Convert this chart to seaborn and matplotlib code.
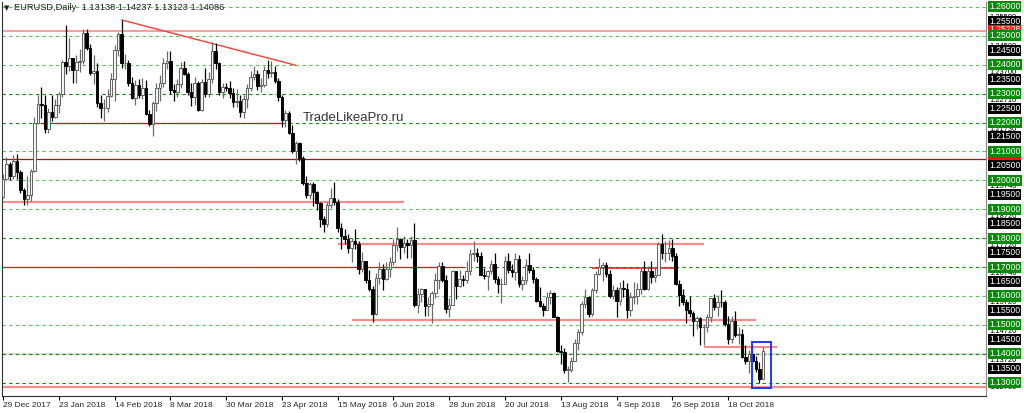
import numpy as np
import pandas as pd
import matplotlib
matplotlib.use("Agg")
import matplotlib.pyplot as plt
from matplotlib.patches import Rectangle
import seaborn as sns

# EURUSD daily, 29 Dec 2017 .. 1 Nov 2018 (one value per bar)
first_open = 1.1943
closes = [
    1.2005, 1.2058, 1.2015, 1.2068, 1.2029, 1.1966, 1.1936, 1.1948, 1.2033, 1.2199,
    1.2263, 1.2262, 1.2177, 1.2237, 1.2220, 1.2262, 1.2300, 1.2408, 1.2397, 1.2425,
    1.2382, 1.2410, 1.2413, 1.2511, 1.2458, 1.2372, 1.2379, 1.2266, 1.2250, 1.2251,
    1.2292, 1.2352, 1.2450, 1.2507, 1.2406, 1.2406, 1.2338, 1.2285, 1.2331, 1.2295,
    1.2318, 1.2230, 1.2194, 1.2268, 1.2318, 1.2336, 1.2405, 1.2412, 1.2311, 1.2306,
    1.2335, 1.2390, 1.2369, 1.2307, 1.2288, 1.2336, 1.2242, 1.2339, 1.2299, 1.2352,
    1.2447, 1.2406, 1.2305, 1.2323, 1.2321, 1.2302, 1.2271, 1.2276, 1.2238, 1.2281,
    1.2320, 1.2356, 1.2369, 1.2326, 1.2330, 1.2381, 1.2371, 1.2374, 1.2345, 1.2288,
    1.2210, 1.2234, 1.2165, 1.2103, 1.2130, 1.2079, 1.1992, 1.1951, 1.1988, 1.1960,
    1.1922, 1.1866, 1.1850, 1.1916, 1.1940, 1.1926, 1.1836, 1.1808, 1.1796, 1.1767,
    1.1791, 1.1780, 1.1694, 1.1720, 1.1655, 1.1624, 1.1536, 1.1663, 1.1693, 1.1658,
    1.1694, 1.1717, 1.1775, 1.1798, 1.1768, 1.1782, 1.1777, 1.1793, 1.1569, 1.1607,
    1.1624, 1.1565, 1.1572, 1.1610, 1.1654, 1.1702, 1.1654, 1.1554, 1.1569, 1.1685,
    1.1634, 1.1660, 1.1655, 1.1687, 1.1745, 1.1750, 1.1740, 1.1673, 1.1670, 1.1686,
    1.1710, 1.1659, 1.1641, 1.1642, 1.1720, 1.1691, 1.1683, 1.1728, 1.1640, 1.1657,
    1.1708, 1.1690, 1.1658, 1.1584, 1.1567, 1.1553, 1.1595, 1.1611, 1.1528, 1.1410,
    1.1406, 1.1345, 1.1345, 1.1375, 1.1437, 1.1477, 1.1571, 1.1598, 1.1536, 1.1620,
    1.1677, 1.1700, 1.1708, 1.1675, 1.1601, 1.1620, 1.1583, 1.1628, 1.1623, 1.1552,
    1.1596, 1.1600, 1.1625, 1.1688, 1.1625, 1.1686, 1.1667, 1.1673, 1.1779, 1.1748,
    1.1748, 1.1766, 1.1738, 1.1641, 1.1605, 1.1578, 1.1551, 1.1541, 1.1513, 1.1523,
    1.1491, 1.1491, 1.1526, 1.1593, 1.1561, 1.1580, 1.1578, 1.1502, 1.1451, 1.1513,
    1.1464, 1.1469, 1.1389, 1.1376, 1.1401, 1.1376, 1.1348, 1.1312, 1.1409,
]
highs = [
    1.2023, 1.2081, 1.2065, 1.2089, 1.2092, 1.2035, 1.1973, 1.2015, 1.2039, 1.2219,
    1.2296, 1.2323, 1.2297, 1.2250, 1.2297, 1.2283, 1.2306, 1.2415, 1.2537, 1.2494,
    1.2423, 1.2434, 1.2456, 1.2523, 1.2522, 1.2473, 1.2434, 1.2405, 1.2296, 1.2280,
    1.2315, 1.2370, 1.2469, 1.2513, 1.2555, 1.2436, 1.2416, 1.2356, 1.2348, 1.2352,
    1.2355, 1.2346, 1.2243, 1.2275, 1.2336, 1.2365, 1.2424, 1.2446, 1.2447, 1.2335,
    1.2350, 1.2410, 1.2413, 1.2375, 1.2337, 1.2356, 1.2345, 1.2350, 1.2388, 1.2375,
    1.2477, 1.2476, 1.2408, 1.2337, 1.2338, 1.2345, 1.2318, 1.2316, 1.2295, 1.2296,
    1.2335, 1.2378, 1.2396, 1.2383, 1.2355, 1.2396, 1.2415, 1.2413, 1.2396, 1.2355,
    1.2296, 1.2245, 1.2239, 1.2190, 1.2136, 1.2134, 1.2083, 1.2015, 1.1995, 1.1995,
    1.1964, 1.1925, 1.1875, 1.1924, 1.1972, 1.1996, 1.1935, 1.1852, 1.1830, 1.1815,
    1.1800, 1.1832, 1.1790, 1.1751, 1.1722, 1.1690, 1.1634, 1.1680, 1.1718, 1.1710,
    1.1716, 1.1735, 1.1796, 1.1840, 1.1799, 1.1809, 1.1796, 1.1809, 1.1852, 1.1628,
    1.1626, 1.1622, 1.1595, 1.1618, 1.1678, 1.1719, 1.1716, 1.1673, 1.1592, 1.1690,
    1.1682, 1.1690, 1.1673, 1.1720, 1.1762, 1.1790, 1.1767, 1.1751, 1.1696, 1.1690,
    1.1723, 1.1747, 1.1668, 1.1661, 1.1738, 1.1750, 1.1710, 1.1748, 1.1742, 1.1668,
    1.1727, 1.1747, 1.1700, 1.1665, 1.1630, 1.1577, 1.1613, 1.1620, 1.1614, 1.1532,
    1.1431, 1.1419, 1.1358, 1.1390, 1.1450, 1.1485, 1.1581, 1.1623, 1.1601, 1.1628,
    1.1688, 1.1733, 1.1716, 1.1717, 1.1690, 1.1639, 1.1631, 1.1647, 1.1656, 1.1644,
    1.1613, 1.1647, 1.1645, 1.1700, 1.1722, 1.1702, 1.1721, 1.1701, 1.1788, 1.1815,
    1.1789, 1.1794, 1.1797, 1.1750, 1.1655, 1.1624, 1.1589, 1.1601, 1.1548, 1.1532,
    1.1526, 1.1502, 1.1539, 1.1594, 1.1607, 1.1603, 1.1621, 1.1585, 1.1532, 1.1530,
    1.1549, 1.1493, 1.1486, 1.1432, 1.1412, 1.1432, 1.1393, 1.1373, 1.14237,
]
lows = [
    1.1940, 1.2000, 1.2000, 1.2006, 1.2004, 1.1955, 1.1916, 1.1916, 1.1929, 1.2028,
    1.2195, 1.2216, 1.2165, 1.2165, 1.2205, 1.2215, 1.2234, 1.2290, 1.2367, 1.2380,
    1.2338, 1.2336, 1.2375, 1.2403, 1.2450, 1.2365, 1.2335, 1.2253, 1.2214, 1.2206,
    1.2237, 1.2288, 1.2274, 1.2430, 1.2390, 1.2385, 1.2325, 1.2281, 1.2260, 1.2285,
    1.2280, 1.2226, 1.2189, 1.2155, 1.2241, 1.2273, 1.2324, 1.2386, 1.2300, 1.2273,
    1.2290, 1.2319, 1.2363, 1.2296, 1.2258, 1.2260, 1.2240, 1.2239, 1.2288, 1.2288,
    1.2337, 1.2385, 1.2296, 1.2286, 1.2310, 1.2285, 1.2254, 1.2255, 1.2218, 1.2215,
    1.2250, 1.2308, 1.2348, 1.2314, 1.2305, 1.2324, 1.2355, 1.2358, 1.2336, 1.2275,
    1.2183, 1.2183, 1.2161, 1.2096, 1.2055, 1.2068, 1.1985, 1.1938, 1.1937, 1.1911,
    1.1896, 1.1838, 1.1823, 1.1838, 1.1904, 1.1915, 1.1820, 1.1763, 1.1779, 1.1750,
    1.1716, 1.1761, 1.1676, 1.1684, 1.1645, 1.1616, 1.1510, 1.1535, 1.1640, 1.1619,
    1.1656, 1.1667, 1.1707, 1.1754, 1.1729, 1.1748, 1.1732, 1.1730, 1.1562, 1.1540,
    1.1580, 1.1532, 1.1530, 1.1508, 1.1594, 1.1623, 1.1647, 1.1541, 1.1527, 1.1569,
    1.1591, 1.1630, 1.1633, 1.1646, 1.1672, 1.1720, 1.1717, 1.1671, 1.1658, 1.1622,
    1.1675, 1.1646, 1.1612, 1.1575, 1.1647, 1.1681, 1.1664, 1.1655, 1.1630, 1.1620,
    1.1641, 1.1680, 1.1646, 1.1578, 1.1561, 1.1530, 1.1550, 1.1572, 1.1527, 1.1406,
    1.1365, 1.1334, 1.1301, 1.1336, 1.1374, 1.1413, 1.1465, 1.1560, 1.1528, 1.1532,
    1.1611, 1.1671, 1.1653, 1.1664, 1.1594, 1.1589, 1.1529, 1.1570, 1.1597, 1.1525,
    1.1530, 1.1572, 1.1572, 1.1607, 1.1620, 1.1621, 1.1645, 1.1650, 1.1672, 1.1727,
    1.1719, 1.1726, 1.1721, 1.1639, 1.1566, 1.1570, 1.1505, 1.1526, 1.1463, 1.1486,
    1.1432, 1.1431, 1.1474, 1.1510, 1.1550, 1.1530, 1.1561, 1.1495, 1.1433, 1.1436,
    1.1458, 1.1435, 1.1386, 1.1365, 1.1335, 1.1369, 1.1338, 1.1300, 1.13123,
]

tick_bars = [0, 16, 32, 48, 64, 80, 96, 112, 128, 144, 160, 176, 192, 208]
tick_labels = ["29 Dec 2017", "23 Jan 2018", "14 Feb 2018", "8 Mar 2018", "30 Mar 2018",
               "23 Apr 2018", "15 May 2018", "6 Jun 2018", "28 Jun 2018", "20 Jul 2018",
               "13 Aug 2018", "4 Sep 2018", "26 Sep 2018", "18 Oct 2018"]

round_levels = [1.26, 1.25, 1.24, 1.23, 1.22, 1.21, 1.20, 1.19, 1.18, 1.17, 1.16, 1.15, 1.14, 1.13]
dark_levels = [1.23, 1.22, 1.18, 1.17, 1.14, 1.13]
half_levels = [1.255, 1.245, 1.235, 1.225, 1.215, 1.205, 1.195, 1.185, 1.175, 1.165, 1.155, 1.145, 1.135]
minor_labels = [1.2558, 1.2458, 1.2370, 1.2271, 1.2173, 1.1974, 1.1872, 1.1772, 1.1674,
                1.1572, 1.1472, 1.1372, 1.1278]
red_labels = [1.25208, 1.20880]

header = "EURUSD,Daily  1.13138 1.14237 1.13123 1.14086"

df = pd.DataFrame({"close": closes, "high": highs, "low": lows})
df["open"] = [first_open] + closes[:-1]
df["bar"] = np.arange(len(df))
df["up"] = df["close"] >= df["open"]

sns.set_theme(style="white")
plt.rcParams['font.family'] = ['Liberation Sans', 'DejaVu Sans']

W, H = 1024, 413
fig = plt.figure(figsize=(W / 100, H / 100), dpi=100)
ax = fig.add_axes([2 / W, (H - 396) / H, 984 / W, 394 / H])
ax.set_xlim(-0.29, 282.0)
ax.set_ylim(1.1254, 1.2617)

# grid levels
for lv in round_levels:
    col = "#0a8a0a" if lv in dark_levels else "#5cbf5c"
    ax.axhline(lv, color=col, lw=0.8, dashes=(3, 3), zorder=1)
ax.axhline(1.1400, color="#dcdcdc", lw=1.6, zorder=0.5)

# support / resistance lines
red_thin = "#e8141a"
red_soft = "#ff8a8a"
ax.hlines(1.2517, -1, 300, color=red_soft, lw=1.2, zorder=2)
ax.hlines(1.2199, 10.6, 80, color="#b41e1e", lw=0.9, zorder=2)
ax.hlines(1.2075, -1, 300, color="#a01414", lw=0.9, zorder=2)
ax.hlines(1.1924, -1, 115, color=red_soft, lw=1.6, zorder=2)
ax.hlines(1.1780, 96, 201, color=red_soft, lw=1.6, zorder=2)
ax.hlines(1.1700, -1, 132, color=red_thin, lw=0.9, zorder=2)
ax.hlines(1.1697, 169, 193, color=red_thin, lw=1.1, zorder=2)
ax.hlines(1.1517, 100, 216, color=red_soft, lw=1.6, zorder=2)
ax.hlines(1.1424, 201, 222, color=red_soft, lw=1.6, zorder=2)
ax.hlines(1.1286, -1, 300, color=red_soft, lw=1.6, zorder=2)
trend = pd.DataFrame({"bar": [34, 84], "price": [1.2555, 1.2398]})
sns.lineplot(data=trend, x="bar", y="price", ax=ax, color="#ff3a3a", lw=1.0, zorder=2)

# candles
wick_col = np.where(df["up"], "#6a6a6a", "black")
ax.vlines(df["bar"], df["low"], df["high"], colors=wick_col, lw=0.9, zorder=3)
body_lo = df[["open", "close"]].min(axis=1)
body_h = (df["close"] - df["open"]).abs().clip(lower=0.00008)
ax.bar(df["bar"], body_h, bottom=body_lo, width=0.74,
       color=np.where(df["up"], "#f4f4f4", "black"),
       edgecolor=np.where(df["up"], "#5a5a5a", "black"), linewidth=0.65, zorder=4)

ax.add_patch(Rectangle((214.9, 1.1282), 5.4, 0.0159, fill=False, ec="#1a3cff", lw=1.4, zorder=5))

ax.set_ylabel("")
ax.set_xlabel("")
ax.set_yticks([])
ax.set_xticks(tick_bars)
ax.set_xticklabels(tick_labels, ha="left", fontsize=6.0)
ax.tick_params(axis="x", direction="out", length=3, width=0.8, pad=1.5, color="black", bottom=True)
for s in ["left", "bottom", "right"]:
    ax.spines[s].set_color("#303030")
    ax.spines[s].set_linewidth(0.8)
ax.spines["right"].set_color("#8a8a8a")
ax.spines["top"].set_visible(False)

# price scale labels on the right (small ones partly hidden, as in the terminal)
yt = ax.get_yaxis_transform()
xl = 1 + 3 / 984
lab_fs = 6.2
for lv in minor_labels:
    ax.text(xl, lv + 0.0004, f"{lv:.5f}", transform=yt, fontsize=5.4, color="black", va="center",
            ha="left", clip_on=False, bbox=dict(boxstyle="square,pad=0.05", fc="white", ec="none"))
for lv in half_levels:
    ax.text(xl, lv, f"{lv:.5f}", transform=yt, fontsize=lab_fs, color="white", va="center",
            ha="left", clip_on=False, bbox=dict(boxstyle="square,pad=0.12", fc="black", ec="none"))
for lv in red_labels:
    ax.text(xl, lv, f"{lv:.5f}", transform=yt, fontsize=lab_fs, color="white", va="center",
            ha="left", clip_on=False, bbox=dict(boxstyle="square,pad=0.08", fc="#ff1010", ec="none"))
for lv in round_levels:
    ax.text(xl, lv, f"{lv:.5f}", transform=yt, fontsize=lab_fs, color="white", va="center",
            ha="left", clip_on=False, bbox=dict(boxstyle="square,pad=0.12", fc="#0a8a0a", ec="none"))

fig.text(4 / W, 1 - 8 / H, "\u25bc", fontsize=5, color="#202020", va="center",
         family=["DejaVu Sans"])
fig.text(14 / W, 1 - 8 / H, header, fontsize=6.7, color="#202020", va="center")
fig.text(303 / W, 1 - 118 / H, "TradeLikeaPro.ru", fontsize=9.5, color="#333333", va="center")

fig.savefig("out.png", dpi=100)
